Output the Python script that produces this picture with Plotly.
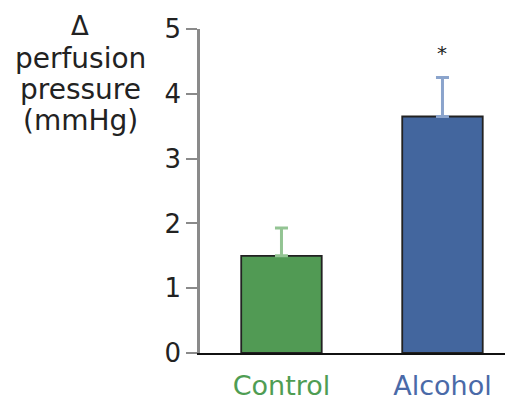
import plotly.graph_objects as go

categories = ["Control", "Alcohol"]
values = [1.5, 3.65]
errors_up = [0.43, 0.6]
bar_colors = ["#519a54", "#43669e"]
err_colors = ["#93c493", "#8ba4cc"]
label_colors = ["#4f9d53", "#4a6aa8"]
y_ticks = [0, 1, 2, 3, 4, 5]
title_lines = ["Δ", "perfusion", "pressure", "(mmHg)"]
sig_marker = "*"

fig = go.Figure()
for i, cat in enumerate(categories):
    fig.add_trace(go.Bar(
        x=[cat], y=[values[i]], width=0.5,
        marker=dict(color=bar_colors[i], line=dict(color="#222222", width=1.8)),
        error_y=dict(type="data", symmetric=False, array=[errors_up[i]], arrayminus=[0],
                     color=err_colors[i], thickness=3, width=6.5),
        showlegend=False,
    ))

ticktext = [f"<span style='color:{label_colors[i]}'>{c}</span>" for i, c in enumerate(categories)]

# page body has an 8px default margin: figure is 8px smaller and shifted
fig.update_layout(
    width=505, height=395,
    margin=dict(l=192, r=0, t=21, b=50),
    plot_bgcolor="white", paper_bgcolor="white",
    barmode="overlay",
    font=dict(family="DejaVu Sans", size=26, color="#222222"),
    xaxis=dict(range=[-0.506, 1.438], tickvals=categories, ticktext=ticktext,
               showline=True, linecolor="#111111", linewidth=1.5,
               ticks="outside", ticklen=8, tickcolor="rgba(0,0,0,0)",
               showgrid=False, zeroline=False, tickfont=dict(size=27)),
    yaxis=dict(range=[0, 5], tickvals=y_ticks, showline=True, linecolor="#8a8a8a",
               linewidth=2.5, ticks="outside", ticklen=11, tickwidth=1.5,
               tickcolor="#8a8a8a", showgrid=False, zeroline=False,
               tickfont=dict(size=26)),
)

line_y = [26, 59, 90, 120]
line_size = [26, 28, 28, 28]
for txt, yy, sz in zip(title_lines, line_y, line_size):
    fig.add_annotation(text=txt, xref="paper", yref="paper",
                       x=(80 - 200) / 313, y=1 - (yy - 29) / 324,
                       xanchor="center", yanchor="middle", showarrow=False,
                       font=dict(size=sz, color="#222222"))

fig.add_annotation(text=sig_marker, x=categories[1], y=values[1] + errors_up[1] + 0.38,
                   xref="x", yref="y", showarrow=False, font=dict(size=20, color="#222222"))

fig.write_html("out.html")
